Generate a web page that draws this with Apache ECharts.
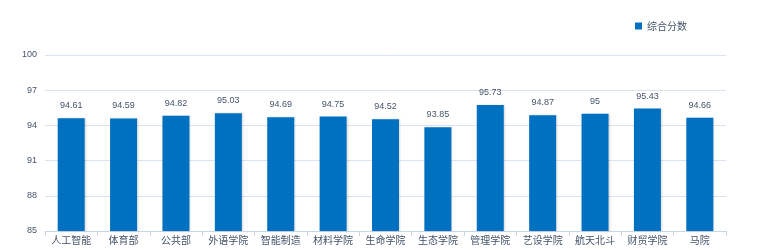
<!DOCTYPE html>
<html><head><meta charset="utf-8">
<script src="https://cdn.jsdelivr.net/npm/echarts@6/dist/echarts.min.js"></script>
<style>html,body{margin:0;padding:0;background:#fff}#c{width:770px;height:250px}</style>
</head><body><div id="c"></div>
<script>
var categories = ['人工智能','体育部','公共部','外语学院','智能制造','材料学院','生命学院','生态学院','管理学院','艺设学院','航天北斗','财贸学院','马院'];
var scores = [94.61,94.59,94.82,95.03,94.69,94.75,94.52,93.85,95.73,94.87,95,95.43,94.66];
var seriesName = '综合分数';
var chart = echarts.init(document.getElementById('c'));
chart.setOption({
  animation:false,
  legend:{data:[{name:seriesName,icon:'rect'}],right:78,top:16,itemWidth:7,itemHeight:7,itemGap:4,
    textStyle:{fontSize:10,color:'#44546a',fontFamily:'Noto Sans CJK SC'}},
  grid:{left:45,right:44,top:55,bottom:19},
  xAxis:{type:'category',data:categories,
    axisLine:{lineStyle:{color:'#c8d6ea'}},
    axisTick:{show:true,lineStyle:{color:'#c8d6ea'}},
    axisLabel:{fontSize:10,color:'#44546a',margin:4,fontFamily:'Noto Sans CJK SC',interval:0}},
  yAxis:{type:'value',min:85,max:100,interval:3,
    axisLine:{show:false},axisTick:{show:false},
    splitLine:{lineStyle:{color:'#d9e3f1'}},
    axisLabel:{fontSize:9,color:'#44546a',margin:8,fontFamily:'Liberation Sans'}},
  series:[{name:seriesName,type:'bar',data:scores,barWidth:27,
    itemStyle:{color:'#0070c0',shadowColor:'rgba(0,0,0,0.15)',shadowBlur:2,shadowOffsetX:1},
    label:{show:true,position:'top',distance:8,fontSize:9,color:'#44546a',fontFamily:'Liberation Sans'}}]
});
</script></body></html>
